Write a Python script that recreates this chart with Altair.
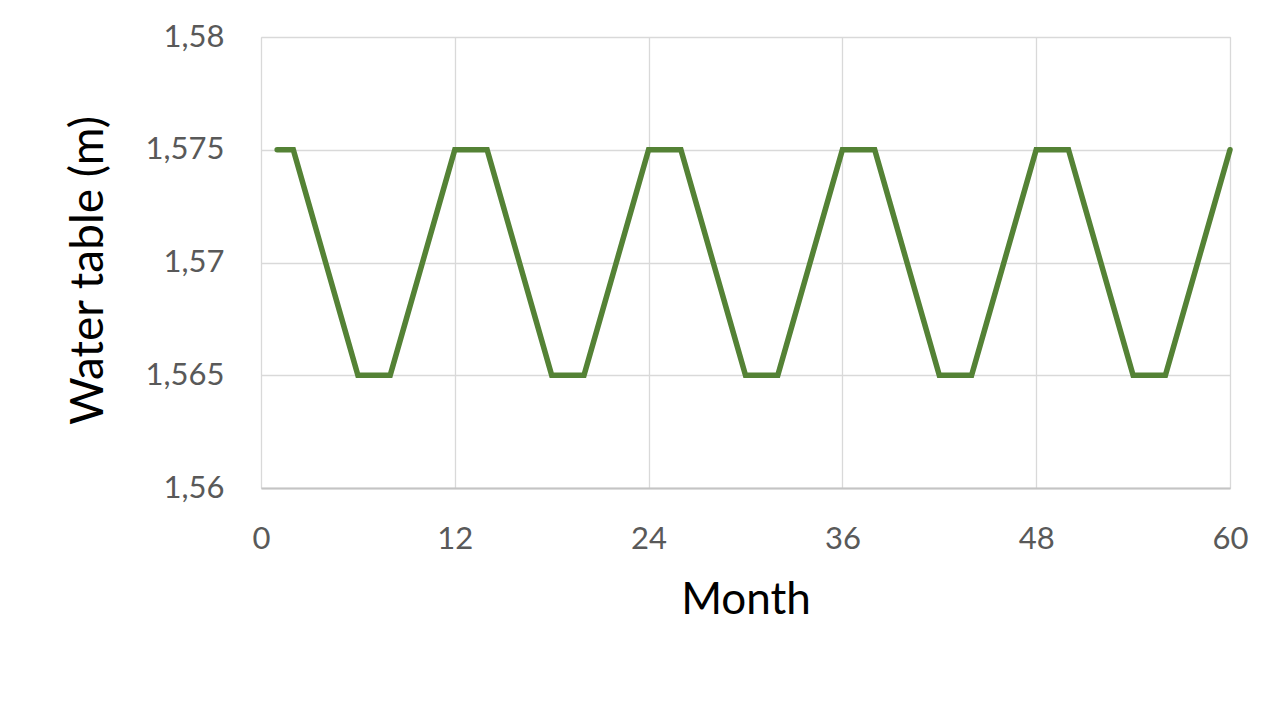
import altair as alt
import pandas as pd

months = list(range(1, 61))
water_table = [
    1.575, 1.575, 1.5725, 1.57, 1.5675, 1.565, 1.565, 1.565, 1.5675, 1.57, 1.5725, 1.575,
    1.575, 1.575, 1.5725, 1.57, 1.5675, 1.565, 1.565, 1.565, 1.5675, 1.57, 1.5725, 1.575,
    1.575, 1.575, 1.5725, 1.57, 1.5675, 1.565, 1.565, 1.565, 1.5675, 1.57, 1.5725, 1.575,
    1.575, 1.575, 1.5725, 1.57, 1.5675, 1.565, 1.565, 1.565, 1.5675, 1.57, 1.5725, 1.575,
    1.575, 1.575, 1.5725, 1.57, 1.5675, 1.565, 1.565, 1.565, 1.5675, 1.57, 1.5725, 1.575,
]
x_ticks = [0, 12, 24, 36, 48, 60]
y_ticks = [1.56, 1.565, 1.57, 1.575, 1.58]

df = pd.DataFrame({"Month": months, "Water": water_table})

FONT = "Lato"

chart = (
    alt.Chart(df)
    .mark_line(color="#548235", strokeWidth=5.5, strokeCap="round")
    .encode(
        x=alt.X(
            "Month:Q",
            scale=alt.Scale(domain=[0, 60], nice=False, zero=False),
            axis=alt.Axis(
                values=x_ticks,
                title="Month",
                grid=True,
                gridColor="#d9d9d9",
                gridWidth=1.3,
                domain=True,
                domainColor="#c4c4c4",
                domainWidth=2,
                ticks=False,
                tickSize=0,
                labelFont=FONT,
                labelFontSize=31,
                labelColor="#595959",
                labelBaseline="alphabetic",
                labelPadding=60,
                labelFlush=False,
                titleFont=FONT,
                titleFontSize=44,
                titleFontWeight="normal",
                titleColor="#000000",
                titleBaseline="alphabetic",
                titleY=125,
            ),
        ),
        y=alt.Y(
            "Water:Q",
            scale=alt.Scale(domain=[1.56, 1.58], nice=False, zero=False),
            axis=alt.Axis(
                values=y_ticks,
                title="Water table (m)",
                labelExpr="replace(format(datum.value, '.3~f'), '.', ',')",
                grid=True,
                gridColor="#d9d9d9",
                gridWidth=1.3,
                domain=False,
                ticks=False,
                tickSize=0,
                labelFont=FONT,
                labelFontSize=31,
                labelColor="#595959",
                labelPadding=37,
                labelBaseline="middle",
                labelFlush=False,
                titleFont=FONT,
                titleFontSize=46,
                titleFontWeight="normal",
                titleColor="#000000",
                titleAngle=270,
                titleAlign="center",
                titleBaseline="alphabetic",
                titleX=-159,
                titleY=233,
            ),
        ),
    )
    .properties(
        width=969,
        height=451,
        autosize=alt.AutoSizeParams(type="none"),
        padding={"left": 253, "top": 29, "right": 30, "bottom": 200},
    )
    .configure_view(stroke=None)
    .configure(background="white")
)

chart.save("out.html", embed_options={"renderer": "svg", "actions": False})
